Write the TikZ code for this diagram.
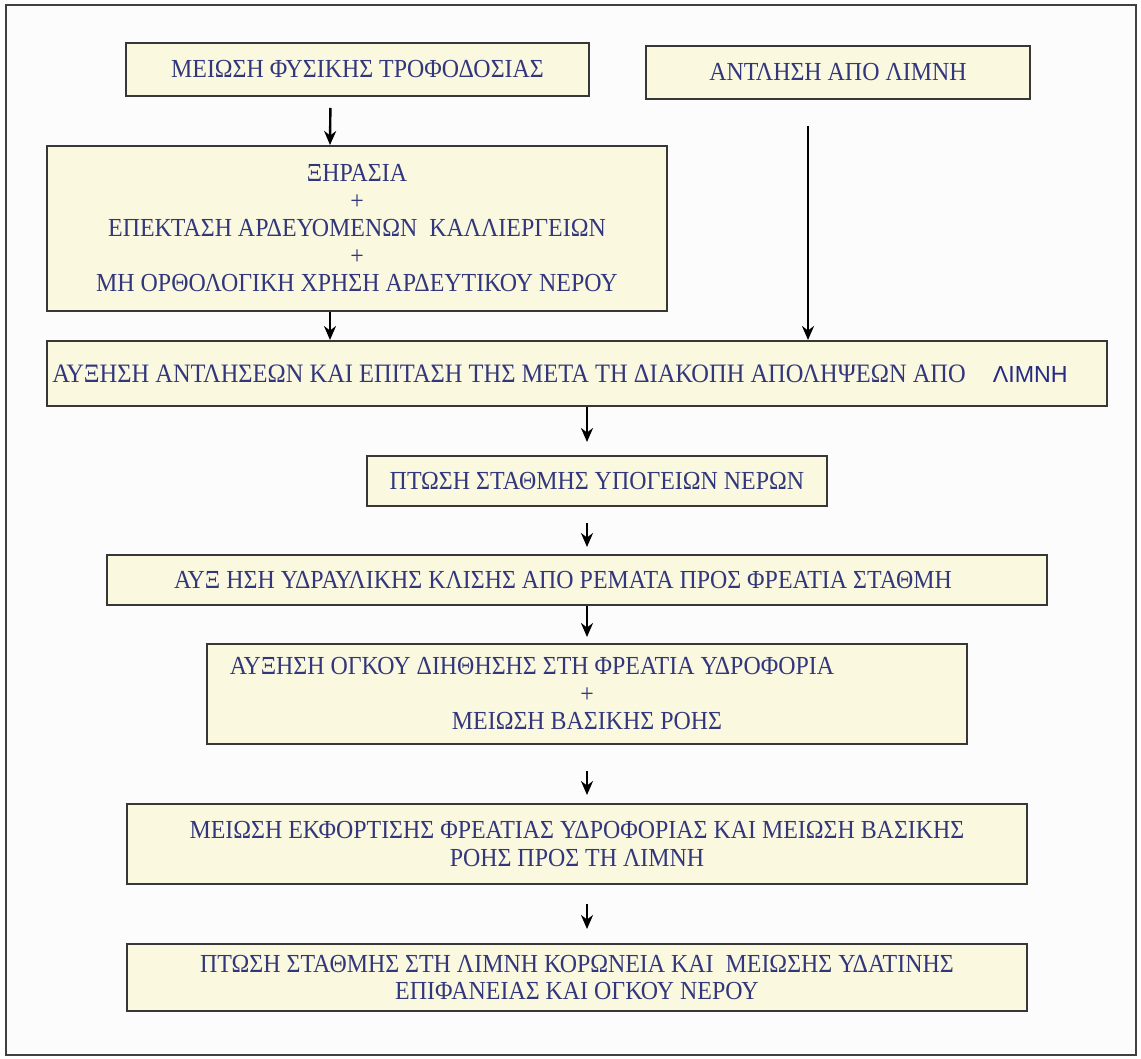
\documentclass[tikz,border=0pt]{standalone}
\usepackage{fontspec}
\setmainfont{Liberation Serif}[FakeStretch=0.92]
\newfontfamily\lakefont{Liberation Sans}
\usepackage{tikz}
\usetikzlibrary{arrows.meta}
\definecolor{boxfill}{RGB}{250,248,222}
\definecolor{boxline}{RGB}{55,55,55}
\definecolor{txtblue}{RGB}{50,55,125}
\definecolor{lakeblue}{RGB}{38,42,135}

\begin{document}
\begin{tikzpicture}[x=0.5pt, y=-0.5pt,
    box/.style={draw=boxline, line width=1pt, fill=boxfill, rectangle, inner sep=0pt,
        text=txtblue, align=center, font=\fontsize{13}{13.75}\selectfont},
    arr/.style={-{Stealth[length=7pt, width=6pt]}, line width=1.2pt}]
    \useasboundingbox (0,0) rectangle (1141,1059);
    % πλαίσιο
    \draw[line width=1.2pt, draw=black!75, fill=black!1] (6,5) rectangle (1136,1055);

    % πάνω κουτιά
    \node[box, minimum width=231.5pt, minimum height=26.5pt] (meiosi) at (357.5,69.5) {ΜΕΙΩΣΗ ΦΥΣΙΚΗΣ ΤΡΟΦΟΔΟΣΙΑΣ};
    \node[box, minimum width=192pt, minimum height=26.5pt] (antlisi) at (838,72.5) {ΑΝΤΛΗΣΗ ΑΠΟ ΛΙΜΝΗ};
    \node[box, minimum width=310pt, minimum height=82.5pt] (xirasia) at (357,228.5)
        {ΞΗΡΑΣΙΑ\\+\\ΕΠΕΚΤΑΣΗ ΑΡΔΕΥΟΜΕΝΩΝ\ \ ΚΑΛΛΙΕΡΓΕΙΩΝ\\+\\ΜΗ ΟΡΘΟΛΟΓΙΚΗ ΧΡΗΣΗ ΑΡΔΕΥΤΙΚΟΥ ΝΕΡΟΥ};

    % αλυσίδα
    \node[box, minimum width=530pt, minimum height=32.5pt, font=\fontsize{13.3}{14}\selectfont] (auxisi) at (577,373.5)
        {ΑΥΞΗΣΗ ΑΝΤΛΗΣΕΩΝ ΚΑΙ ΕΠΙΤΑΣΗ ΤΗΣ ΜΕΤΑ ΤΗ ΔΙΑΚΟΠΗ ΑΠΟΛΗΨΕΩΝ ΑΠΟ\hspace{13.5pt}{\lakefont\fontsize{11.6}{12}\selectfont\color{lakeblue}ΛΙΜΝΗ}\hspace*{17pt}};
    \node[box, minimum width=230pt, minimum height=25pt] (ptosi) at (597,481) {ΠΤΩΣΗ ΣΤΑΘΜΗΣ ΥΠΟΓΕΙΩΝ ΝΕΡΩΝ};
    \node[box, minimum width=470pt, minimum height=25pt] (klisi) at (577,580)
        {ΑΥΞ ΗΣΗ ΥΔΡΑΥΛΙΚΗΣ ΚΛΙΣΗΣ ΑΠΟ ΡΕΜΑΤΑ ΠΡΟΣ ΦΡΕΑΤΙΑ ΣΤΑΘΜΗ\hspace*{14pt}};
    \node[box, minimum width=380pt, minimum height=50pt] (diithisi) at (587,694)
        {ΑΥΞΗΣΗ ΟΓΚΟΥ ΔΙΗΘΗΣΗΣ ΣΤΗ ΦΡΕΑΤΙΑ ΥΔΡΟΦΟΡΙΑ\hspace*{55pt}\\+\\ΜΕΙΩΣΗ ΒΑΣΙΚΗΣ ΡΟΗΣ};
    \node[box, minimum width=450pt, minimum height=40pt] (ekfortisi) at (577,844)
        {ΜΕΙΩΣΗ ΕΚΦΟΡΤΙΣΗΣ ΦΡΕΑΤΙΑΣ ΥΔΡΟΦΟΡΙΑΣ ΚΑΙ ΜΕΙΩΣΗ ΒΑΣΙΚΗΣ\\ΡΟΗΣ ΠΡΟΣ ΤΗ ΛΙΜΝΗ};
    \node[box, minimum width=450pt, minimum height=33.5pt] (stathmi) at (577,977.5)
        {ΠΤΩΣΗ ΣΤΑΘΜΗΣ ΣΤΗ ΛΙΜΝΗ ΚΟΡΩΝΕΙΑ ΚΑΙ\ \ ΜΕΙΩΣΗΣ ΥΔΑΤΙΝΗΣ\\ΕΠΙΦΑΝΕΙΑΣ ΚΑΙ ΟΓΚΟΥ ΝΕΡΟΥ};

    % βέλη
    \draw[arr, shorten <=5.5pt] ([xshift=-13.5pt]meiosi.south) -- ([xshift=-13.5pt]xirasia.north);
    \draw[arr] ([xshift=-13.5pt]xirasia.south) -- ([xshift=-13.5pt]xirasia.south |- auxisi.north);
    \draw[arr, shorten <=13pt] ([xshift=-15pt]antlisi.south) -- ([xshift=-15pt]antlisi.south |- auxisi.north);
    \draw[arr, shorten >=6.5pt] ([xshift=5pt]auxisi.south) -- ([xshift=5pt]auxisi.south |- ptosi.north);
    \draw[arr, shorten <=8pt, shorten >=3.5pt] ([xshift=-5pt]ptosi.south) -- ([xshift=-5pt]ptosi.south |- klisi.north);
    \draw[arr, shorten >=3pt] (klisi.south -| diithisi.north) -- (diithisi.north);
    \draw[arr, shorten <=13pt, shorten >=4pt] (diithisi.south) -- (diithisi.south |- ekfortisi.north);
    \draw[arr, shorten <=9.5pt, shorten >=7pt] ([xshift=5pt]ekfortisi.south) -- ([xshift=5pt]ekfortisi.south |- stathmi.north);
\end{tikzpicture}
\end{document}
